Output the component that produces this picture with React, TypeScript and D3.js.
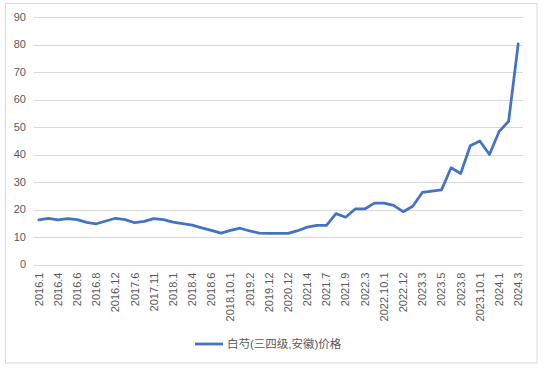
import React from "react";
import * as d3 from "d3";

const tickLabels = [
  "2016.1", "2016.4", "2016.6", "2016.8", "2016.12", "2017.6", "2017.11",
  "2018.1", "2018.4", "2018.6", "2018.10.1", "2019.2", "2019.12", "2020.12",
  "2021.4", "2021.7", "2021.9", "2022.3", "2022.10.1", "2022.12", "2023.3",
  "2023.5", "2023.8", "2023.10.1", "2024.1", "2024.3",
];

// 51 observations; every second one is labelled on the axis
const values = [
  16.2, 16.8, 16.2, 16.7, 16.3, 15.3, 14.8, 15.8, 16.8, 16.3,
  15.2, 15.7, 16.7, 16.3, 15.4, 14.9, 14.3, 13.3, 12.4, 11.4,
  12.4, 13.2, 12.2, 11.4, 11.3, 11.3, 11.3, 12.3, 13.6, 14.2,
  14.2, 18.5, 17.2, 20.2, 20.2, 22.3, 22.3, 21.5, 19.2, 21.2,
  26.2, 26.7, 27.1, 35.2, 33.1, 43.2, 44.9, 40.0, 48.3, 52.1,
  80.2,
];

const yTicks = [0, 10, 20, 30, 40, 50, 60, 70, 80, 90];
const seriesName = "白芍(三四级,安徽)价格";

const W = 544;
const H = 369;
const plot = { left: 34, right: 523, top: 17, bottom: 264.5 };
const font = "'Liberation Sans', 'Noto Sans CJK SC', sans-serif";
const textColor = "#595959";
const gridColor = "#d9d9d9";
const lineColor = "#4472C4";

export default function App() {
  const x = d3
    .scaleBand<number>()
    .domain(d3.range(values.length))
    .range([plot.left, plot.right]);
  const xc = (i: number) => (x(i) as number) + x.bandwidth() / 2;
  const y = d3.scaleLinear().domain([0, 90]).range([plot.bottom, plot.top]);

  const line = d3
    .line<number>()
    .x((_, i) => xc(i))
    .y((d) => y(d));

  return (
    <svg
      width={W}
      height={H}
      style={{ position: "absolute", left: 0, top: 0, background: "#fff" }}
    >
      <rect x={5.5} y={3.5} width={531.5} height={359.5} fill="#fff" stroke={gridColor} />
      {yTicks.map((t) => (
        <g key={t}>
          <line
            x1={plot.left}
            x2={plot.right}
            y1={Math.round(y(t)) + 0.5}
            y2={Math.round(y(t)) + 0.5}
            stroke={gridColor}
            strokeWidth={1}
          />
          <text
            x={26}
            y={y(t)}
            dy="0.35em"
            textAnchor="end"
            fontSize={11}
            fontFamily={font}
            fill={textColor}
          >
            {t}
          </text>
        </g>
      ))}
      {tickLabels.map((lab, k) => {
        const cx = xc(k * 2);
        return (
          <text
            key={lab}
            transform={`translate(${cx},${plot.bottom + 8}) rotate(-90)`}
            textAnchor="end"
            dy="0.35em"
            fontSize={11}
            fontFamily={font}
            fill={textColor}
          >
            {lab}
          </text>
        );
      })}
      <path
        d={line(values) || ""}
        fill="none"
        stroke={lineColor}
        strokeWidth={2.75}
        strokeLinejoin="round"
        strokeLinecap="round"
      />
      <line x1={195} x2={223} y1={344} y2={344} stroke={lineColor} strokeWidth={2.75} />
      <text
        x={227}
        y={344}
        dy="0.35em"
        fontSize={11.5}
        fontFamily={font}
        fill={textColor}
      >
        {seriesName}
      </text>
    </svg>
  );
}
